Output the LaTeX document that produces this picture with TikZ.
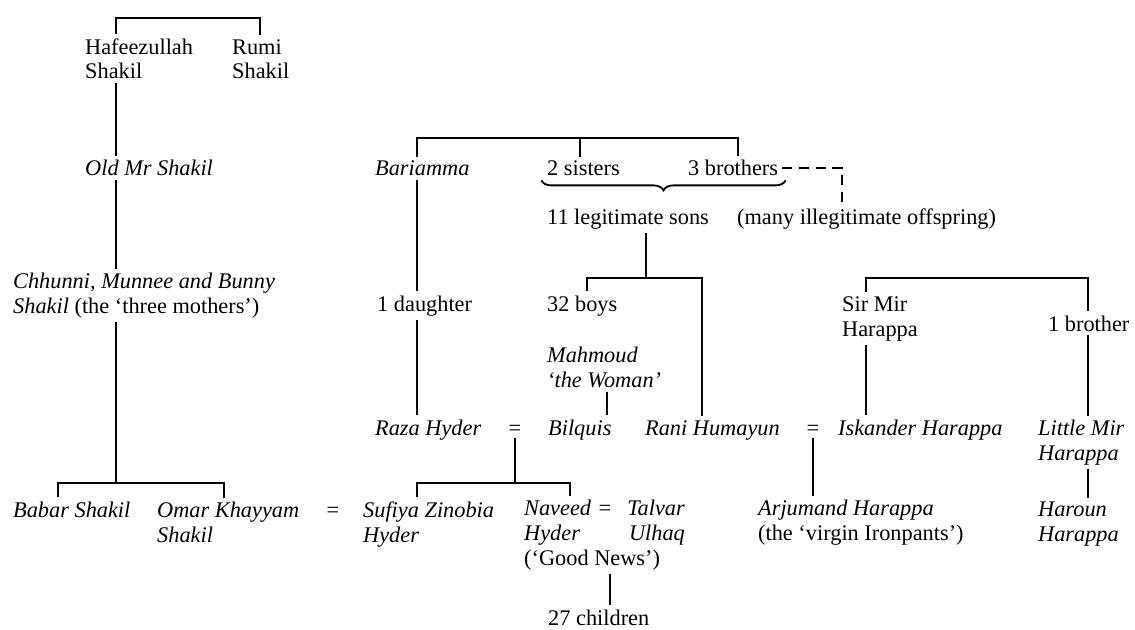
\documentclass[tikz,border=0pt]{standalone}
\usepackage{fontspec}
\setmainfont{Liberation Serif}
\usetikzlibrary{decorations.pathreplacing}
\begin{document}
\begin{tikzpicture}[x=0.6pt,y=-0.6pt,line width=1.1pt,
    person/.style={anchor=base west,inner sep=0pt,outer sep=2.5pt,align=left,font=\fontsize{13.4}{14.8}\selectfont},
    wed/.style={anchor=base,inner sep=0pt,outer sep=2pt,font=\fontsize{13.4}{14.8}\selectfont},
    sonsbrace/.style={decorate,decoration={brace,mirror,amplitude=6pt}},
    illeg/.style={dash pattern=on 6pt off 4pt}]
\useasboundingbox (0,0) rectangle (1135,630);
% Shakil side (multi-line names sit on their last line)
\node[person] (hafeez) at (81,79) {Hafeezullah\\Shakil};
\node[person] (rumi) at (228,79) {Rumi\\Shakil};
\node[person] (old) at (81,176) {\textit{Old Mr Shakil}};
\node[person] (mothers) at (9,313) {\textit{Chhunni, Munnee and Bunny}\\\textit{Shakil} (the `three mothers')};
\node[person] (babar) at (9,517) {\textit{Babar Shakil}};
\node[person] (omar) at (153,542) {\textit{Omar Khayyam}\\\textit{Shakil}};
\node[wed] (eq1) at (333,517) {=};
\node[person] (sufiya) at (359,542) {\textit{Sufiya Zinobia}\\\textit{Hyder}};
% Bariamma side
\node[person] (bari) at (371,176) {\textit{Bariamma}};
\node[person] (sisters) at (543,176) {2 sisters};
\node[person] (brothers) at (684,176) {3 brothers};
\node[person] (sons) at (543,224) {11 legitimate sons};
\node[person] (offspring) at (733,224) {(many illegitimate offspring)};
\node[person] (daughter) at (373,311) {1 daughter};
\node[person] (boys) at (543,311) {32 boys};
\node[person] (mahmoud) at (543,387) {\textit{Mahmoud}\\\textit{`the Woman'}};
\node[person] (raza) at (371,435) {\textit{Raza Hyder}};
\node[wed] (eq3) at (515,435) {=};
\node[person] (bilquis) at (544,435) {\textit{Bilquis}};
\node[person] (rani) at (641,435) {\textit{Rani Humayun}};
\node[person] (naveed) at (520,565) {\textit{Naveed}\\\textit{Hyder}\\(`Good News')};
\node[wed] (eq5) at (605,515) {=};
\node[person,anchor=base east,align=right] (talvar) at (689,540) {\textit{Talvar}\\\textit{Ulhaq}};
\node[person] (children) at (544,625) {27 children};
% Harappa side
\node[person] (sirmir) at (838,336) {Sir Mir\\Harappa};
\node[person] (brother) at (1044,331) {1 brother};
\node[wed] (eq4) at (813,435) {=};
\node[person] (iskander) at (834,435) {\textit{Iskander Harappa}};
\node[person] (littlemir) at (1034,460) {\textit{Little Mir}\\\textit{Harappa}};
\node[person] (arjumand) at (754,540) {\textit{Arjumand Harappa}\\(the `virgin Ironpants')};
\node[person] (haroun) at (1034,541) {\textit{Haroun}\\\textit{Harappa}};

% bars and line positions
\coordinate (topL) at (116,18);
\coordinate (topR) at (260,18);
\coordinate (shakX) at (116,0);
\coordinate (babL) at (58,483);
\coordinate (babR) at (224,483);
\coordinate (midL) at (417,138);
\coordinate (midC) at (580,138);
\coordinate (midR) at (738,138);
\coordinate (dashX) at (842,0);
\coordinate (sonsX) at (646,0);
\coordinate (boysL) at (587,278);
\coordinate (boysR) at (702,278);
\coordinate (mahX) at (607,0);
\coordinate (mirL) at (866,278);
\coordinate (mirR) at (1088,278);
\coordinate (hydL) at (417,483);
\coordinate (hydR) at (570,483);
\coordinate (navX) at (610,0);

\draw (hafeez.north -| topL) -- (topL) -- (topR) -- (rumi.north -| topR);
\draw (hafeez.south -| shakX) -- (old.north -| shakX);
\draw (old.south -| shakX) -- (mothers.north -| shakX);
\draw (mothers.south -| shakX) -- (babL -| shakX);
\draw (babar.north -| babL) -- (babL) -- (babR) -- (omar.north -| babR);

\draw (bari.north -| midL) -- (midL) -- (midR) -- (brothers.north -| midR);
\draw (midC) -- (sisters.north -| midC);
\draw[illeg] (brothers.east) -| (offspring.north -| dashX);
\draw[sonsbrace] ([xshift=-1pt]sisters.south west) -- ([xshift=2pt]brothers.south east);
\draw (sons.south -| sonsX) -- (boysL -| sonsX);
\draw (boys.north -| boysL) -- (boysL) -- (boysR) -- (rani.north -| boysR);
\draw (bari.south -| midL) -- (daughter.north -| midL);
\draw (daughter.south -| midL) -- (raza.north -| midL);
\draw (mahmoud.south -| mahX) -- (bilquis.north -| mahX);
\draw (eq3.south) -- (hydL -| eq3.south);
\draw (sufiya.north -| hydL) -- (hydL) -- (hydR) -- (naveed.north -| hydR);
\draw (naveed.south -| navX) -- (children.north -| navX);

\draw (sirmir.north -| mirL) -- (mirL) -- (mirR) -- (brother.north -| mirR);
\draw (sirmir.south -| mirL) -- (iskander.north -| mirL);
\draw (brother.south -| mirR) -- (littlemir.north -| mirR);
\draw (littlemir.south -| mirR) -- (haroun.north -| mirR);
\draw (eq4.south) -- (arjumand.north -| eq4.south);
\end{tikzpicture}
\end{document}
